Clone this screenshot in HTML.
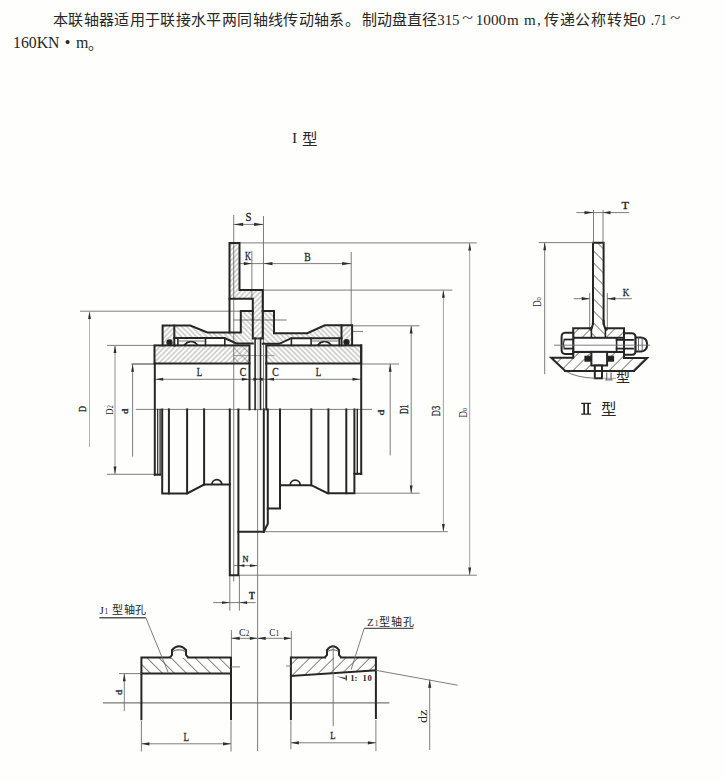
<!DOCTYPE html><html lang="zh-CN"><head><meta charset="utf-8"><style>html,body{margin:0;padding:0;background:#fefefd;width:725px;height:781px;overflow:hidden}svg{display:block}text{font-family:"Liberation Serif",serif;fill:#262626}</style></head><body>
<svg width="725" height="781" viewBox="0 0 725 781">
<defs>
<pattern id="h1" patternUnits="userSpaceOnUse" width="3.6" height="3.6" patternTransform="rotate(45)"><line x1="1.8" y1="0" x2="1.8" y2="3.6" stroke="#5a5a5a" stroke-width="0.5"/></pattern>
<pattern id="h2" patternUnits="userSpaceOnUse" width="3.6" height="3.6" patternTransform="rotate(-45)"><line x1="1.8" y1="0" x2="1.8" y2="3.6" stroke="#5a5a5a" stroke-width="0.5"/></pattern>
<pattern id="s1" patternUnits="userSpaceOnUse" width="8.5" height="8.5" patternTransform="rotate(45)"><line x1="4.25" y1="0" x2="4.25" y2="8.5" stroke="#666" stroke-width="0.8"/></pattern>
<pattern id="s2" patternUnits="userSpaceOnUse" width="8.5" height="8.5" patternTransform="rotate(-45)"><line x1="4.25" y1="0" x2="4.25" y2="8.5" stroke="#666" stroke-width="0.8"/></pattern>
<pattern id="m2" patternUnits="userSpaceOnUse" width="7" height="7" patternTransform="rotate(-45)"><line x1="3.5" y1="0" x2="3.5" y2="7" stroke="#666" stroke-width="0.5"/></pattern>
</defs>
<text x="52.8" y="25" font-size="15" textLength="307" lengthAdjust="spacing">本联轴器适用于联接水平两同轴线传动轴系。</text>
<text x="362" y="25" font-size="15" textLength="75" lengthAdjust="spacing">制动盘直径</text>
<text x="437.2" y="25" font-size="15" textLength="22.4" lengthAdjust="spacingAndGlyphs" >315</text>
<text x="462.3" y="22.5" font-size="14" textLength="10.7" lengthAdjust="spacingAndGlyphs" >~</text>
<text x="475.7" y="25" font-size="15" textLength="30.5" lengthAdjust="spacingAndGlyphs" >1000</text>
<text x="507.1" y="25" font-size="15" textLength="11.7" lengthAdjust="spacingAndGlyphs" >m</text>
<text x="524" y="25" font-size="15" textLength="11.7" lengthAdjust="spacingAndGlyphs" >m</text>
<text x="537" y="25" font-size="15" >,</text>
<text x="543.8" y="25" font-size="15" textLength="94" lengthAdjust="spacing">传递公称转矩</text>
<text x="637.2" y="25" font-size="15" textLength="8.3" lengthAdjust="spacingAndGlyphs" >0</text>
<text x="650.5" y="25" font-size="15" >.</text>
<text x="654.3" y="25" font-size="15" textLength="12.5" lengthAdjust="spacingAndGlyphs" >71</text>
<text x="670.3" y="22.5" font-size="14" textLength="10" lengthAdjust="spacingAndGlyphs" >~</text>
<text x="13" y="47.8" font-size="16" textLength="46.5" lengthAdjust="spacingAndGlyphs">160KN</text>
<text x="67.6" y="47.8" font-size="16" text-anchor="middle">•</text>
<text x="75.9" y="47.8" font-size="16" textLength="12.4" lengthAdjust="spacingAndGlyphs">m</text>
<text x="87.5" y="49" font-size="15">。</text>
<text x="292" y="142.8" font-size="15.5">I</text>
<text x="301.8" y="144.5" font-size="15.5">型</text>
<path d="M581.2,402.8h9.9v1.2h-9.9z M581.2,413.6h9.9v1.2h-9.9z M583.3,402.8h1.7v12h-1.7z M587.3,402.8h1.7v12h-1.7z" fill="#262626"/>
<text x="601.3" y="415" font-size="15.5">型</text>
<line x1="135.8" y1="409.4" x2="372" y2="409.4" stroke="#6e6e6e" stroke-width="0.9" fill="none"/>
<line x1="233.7" y1="215" x2="233.7" y2="581.4" stroke="#8a8a8a" stroke-width="1.1" fill="none"/>
<line x1="263.5" y1="216" x2="263.5" y2="409" stroke="#6e6e6e" stroke-width="0.9" fill="none"/>
<line x1="257.6" y1="409" x2="257.6" y2="751" stroke="#6e6e6e" stroke-width="0.9" fill="none"/>
<line x1="251.9" y1="251" x2="251.9" y2="298.8" stroke="#6e6e6e" stroke-width="0.9" fill="none"/>
<line x1="351.2" y1="252" x2="351.2" y2="325" stroke="#6e6e6e" stroke-width="0.9" fill="none"/>
<line x1="233.7" y1="224.4" x2="263.5" y2="224.4" stroke="#6e6e6e" stroke-width="0.9" fill="none"/>
<polygon points="233.7,224.4 243.10,222.70 243.10,226.10" fill="#2e2e2e"/>
<polygon points="263.5,224.4 254.10,226.10 254.10,222.70" fill="#2e2e2e"/>
<line x1="240" y1="263.6" x2="351.2" y2="263.6" stroke="#6e6e6e" stroke-width="0.9" fill="none"/>
<polygon points="251.9,263.6 243.90,265.20 243.90,262.00" fill="#2e2e2e"/>
<polygon points="263.5,263.6 272.50,262.00 272.50,265.20" fill="#2e2e2e"/>
<polygon points="351.2,263.6 342.20,265.20 342.20,262.00" fill="#2e2e2e"/>
<line x1="239.5" y1="242.9" x2="476.8" y2="242.9" stroke="#6e6e6e" stroke-width="0.9" fill="none"/>
<line x1="262.7" y1="290.1" x2="452.3" y2="290.1" stroke="#6e6e6e" stroke-width="0.9" fill="none"/>
<line x1="352.1" y1="325.8" x2="419.5" y2="325.8" stroke="#6e6e6e" stroke-width="0.9" fill="none"/>
<line x1="352.1" y1="331.4" x2="363" y2="331.4" stroke="#6e6e6e" stroke-width="0.9" fill="none"/>
<line x1="80" y1="311.2" x2="240.8" y2="311.2" stroke="#6e6e6e" stroke-width="0.9" fill="none"/>
<line x1="233.5" y1="320" x2="286.6" y2="320" stroke="#6e6e6e" stroke-width="0.9" fill="none"/>
<line x1="107" y1="345.4" x2="154.5" y2="345.4" stroke="#6e6e6e" stroke-width="0.9" fill="none"/>
<line x1="131.5" y1="364" x2="154.5" y2="364" stroke="#444" stroke-width="1.1" fill="none"/>
<line x1="361.2" y1="364" x2="399" y2="364" stroke="#6e6e6e" stroke-width="0.9" fill="none"/>
<line x1="107" y1="474.3" x2="155" y2="474.3" stroke="#6e6e6e" stroke-width="0.9" fill="none"/>
<line x1="354.4" y1="493.2" x2="419.7" y2="493.2" stroke="#6e6e6e" stroke-width="0.9" fill="none"/>
<line x1="263.8" y1="531.7" x2="447.9" y2="531.7" stroke="#6e6e6e" stroke-width="0.9" fill="none"/>
<line x1="238.4" y1="575.2" x2="476.9" y2="575.2" stroke="#6e6e6e" stroke-width="0.9" fill="none"/>
<line x1="89.5" y1="311.2" x2="89.5" y2="447" stroke="#aaa" stroke-width="0.9" fill="none"/>
<polygon points="89.5,311.2 90.95,318.90 88.05,318.90" fill="#2e2e2e"/>
<line x1="115" y1="345.4" x2="115" y2="474.3" stroke="#999" stroke-width="1.1" fill="none"/>
<polygon points="115,345.4 116.45,353.10 113.55,353.10" fill="#2e2e2e"/>
<polygon points="115,474.3 113.55,466.60 116.45,466.60" fill="#2e2e2e"/>
<line x1="132.6" y1="364" x2="132.6" y2="456.5" stroke="#6e6e6e" stroke-width="0.9" fill="none"/>
<polygon points="132.6,364 134.05,371.70 131.15,371.70" fill="#2e2e2e"/>
<line x1="390.2" y1="364" x2="390.2" y2="455.5" stroke="#6e6e6e" stroke-width="0.9" fill="none"/>
<polygon points="390.2,364 391.65,371.70 388.75,371.70" fill="#2e2e2e"/>
<line x1="411.2" y1="325.8" x2="411.2" y2="493.2" stroke="#6e6e6e" stroke-width="0.9" fill="none"/>
<polygon points="411.2,325.8 412.65,333.50 409.75,333.50" fill="#2e2e2e"/>
<polygon points="411.2,493.2 409.75,485.50 412.65,485.50" fill="#2e2e2e"/>
<line x1="443.4" y1="290.1" x2="443.4" y2="531.7" stroke="#999" stroke-width="0.9" fill="none"/>
<polygon points="443.4,290.1 444.85,297.80 441.95,297.80" fill="#2e2e2e"/>
<polygon points="443.4,531.7 441.95,524.00 444.85,524.00" fill="#2e2e2e"/>
<line x1="469.7" y1="242.9" x2="469.7" y2="575.2" stroke="#999" stroke-width="0.9" fill="none"/>
<polygon points="469.7,242.9 471.15,250.60 468.25,250.60" fill="#2e2e2e"/>
<polygon points="469.7,575.2 468.25,567.50 471.15,567.50" fill="#2e2e2e"/>
<line x1="154.5" y1="379.3" x2="361.2" y2="379.3" stroke="#6e6e6e" stroke-width="0.9" fill="none"/>
<polygon points="155.5,379.3 163.20,377.85 163.20,380.75" fill="#2e2e2e"/>
<polygon points="249.5,379.3 241.80,380.75 241.80,377.85" fill="#2e2e2e"/>
<polygon points="255.2,379.3 262.90,377.85 262.90,380.75" fill="#2e2e2e"/>
<polygon points="261,379.3 253.30,380.75 253.30,377.85" fill="#2e2e2e"/>
<polygon points="266.3,379.3 274.00,377.85 274.00,380.75" fill="#2e2e2e"/>
<polygon points="360.2,379.3 352.50,380.75 352.50,377.85" fill="#2e2e2e"/>
<line x1="234" y1="565.6" x2="257.6" y2="565.6" stroke="#6e6e6e" stroke-width="0.9" fill="none"/>
<polygon points="238.4,565.6 244.40,564.15 244.40,567.05" fill="#2e2e2e"/>
<polygon points="257.6,565.6 249.90,567.05 249.90,564.15" fill="#2e2e2e"/>
<line x1="229.8" y1="575" x2="229.8" y2="610.6" stroke="#6e6e6e" stroke-width="0.9" fill="none"/>
<line x1="239.4" y1="575" x2="239.4" y2="610.6" stroke="#6e6e6e" stroke-width="0.9" fill="none"/>
<line x1="213.2" y1="602.6" x2="255.7" y2="602.6" stroke="#6e6e6e" stroke-width="0.9" fill="none"/>
<polygon points="229.8,602.6 222.10,604.05 222.10,601.15" fill="#2e2e2e"/>
<polygon points="239.4,602.6 247.10,601.15 247.10,604.05" fill="#2e2e2e"/>
<polygon points="229.5,242.9 239.5,242.9 239.5,290.1 262.7,290.1 262.7,338.4 252.8,338.4 252.8,298.8 229.5,298.8" fill="url(#h1)" stroke="none"/>
<polygon points="174.3,325.6 190.2,325.6 207.4,332.5 240.8,332.5 240.8,311 252.8,311 252.8,343.5 236.4,343.5 224,338 174.3,338" fill="url(#h2)" stroke="none"/>
<polygon points="341.5,325.3 324.8,325.3 307.3,333.2 274,333.2 274,311 262.7,311 262.7,343.8 279.3,343.8 291.4,338.2 341.5,338.2" fill="url(#h2)" stroke="none"/>
<polygon points="162.6,325.6 174.3,325.6 174.3,345.6 162.6,345.6" fill="url(#h1)" stroke="none"/>
<polygon points="341.5,325.3 352.1,325.3 352.1,345.3 341.5,345.3" fill="url(#h1)" stroke="none"/>
<polygon points="154.5,345.4 249.5,345.4 249.5,363.5 154.5,363.5" fill="url(#h1)" stroke="none"/>
<polygon points="266.3,345.4 361.2,345.4 361.2,363.5 266.3,363.5" fill="url(#h2)" stroke="none"/>
<polygon points="233.7,345.4 249.5,345.4 249.5,363.5 233.7,363.5" fill="url(#m2)" stroke="none"/>
<line x1="233.6" y1="355.5" x2="274.6" y2="355.5" stroke="#9a9a9a" stroke-width="0.9" fill="none"/>
<polygon points="229.5,242.9 239.5,242.9 239.5,290.1 262.7,290.1 262.7,338.4 252.8,338.4 252.8,298.8 229.5,298.8" stroke="#262626" stroke-width="2" fill="none" stroke-linejoin="miter" stroke-linecap="square"/>
<line x1="229.5" y1="298.8" x2="229.5" y2="332.5" stroke="#262626" stroke-width="2" fill="none" stroke-linejoin="miter" stroke-linecap="square"/>
<polyline points="162.6,345.6 162.6,325.6 190.2,325.6 207.4,332.5 240.8,332.5 240.8,311 252.8,311" stroke="#262626" stroke-width="2" fill="none" stroke-linejoin="miter" stroke-linecap="square"/>
<polyline points="352.1,345.3 352.1,325.3 324.8,325.3 307.3,333.2 274,333.2 274,311 262.7,311" stroke="#262626" stroke-width="2" fill="none" stroke-linejoin="miter" stroke-linecap="square"/>
<line x1="174.3" y1="325.6" x2="174.3" y2="345.6" stroke="#262626" stroke-width="2" fill="none" stroke-linejoin="miter" stroke-linecap="square"/>
<line x1="341.5" y1="325.3" x2="341.5" y2="345.3" stroke="#262626" stroke-width="2" fill="none" stroke-linejoin="miter" stroke-linecap="square"/>
<polyline points="174.3,338 224.5,338 236.4,343.5 252.8,343.5" stroke="#262626" stroke-width="2" fill="none" stroke-linejoin="miter" stroke-linecap="square"/>
<polyline points="341.5,338.2 291.4,338.2 279.3,343.8 262.7,343.8" stroke="#262626" stroke-width="2" fill="none" stroke-linejoin="miter" stroke-linecap="square"/>
<line x1="177.9" y1="338" x2="177.9" y2="345.4" stroke="#262626" stroke-width="1.6" fill="none" stroke-linejoin="miter" stroke-linecap="square"/>
<line x1="205.5" y1="338" x2="205.5" y2="345.4" stroke="#262626" stroke-width="1.6" fill="none" stroke-linejoin="miter" stroke-linecap="square"/>
<line x1="224.8" y1="338" x2="224.8" y2="345.4" stroke="#262626" stroke-width="1.6" fill="none" stroke-linejoin="miter" stroke-linecap="square"/>
<line x1="291.4" y1="338.2" x2="291.4" y2="345.4" stroke="#262626" stroke-width="1.6" fill="none" stroke-linejoin="miter" stroke-linecap="square"/>
<line x1="311.1" y1="338.2" x2="311.1" y2="345.4" stroke="#262626" stroke-width="1.6" fill="none" stroke-linejoin="miter" stroke-linecap="square"/>
<line x1="339.2" y1="338.2" x2="339.2" y2="345.4" stroke="#262626" stroke-width="1.6" fill="none" stroke-linejoin="miter" stroke-linecap="square"/>
<path d="M184,345.4 Q191,337.5 198,345.4" stroke="#262626" stroke-width="1.6" fill="none"/>
<path d="M186,342.5 Q191,340.5 196,342.5" stroke="#262626" stroke-width="1" fill="none"/>
<path d="M317.5,345.4 Q324.5,337.5 331.5,345.4" stroke="#262626" stroke-width="1.6" fill="none"/>
<path d="M319.5,342.5 Q324.5,340.5 329.5,342.5" stroke="#262626" stroke-width="1" fill="none"/>
<line x1="178" y1="341" x2="205" y2="341" stroke="#555" stroke-width="0.8" fill="none"/>
<line x1="311" y1="341" x2="339" y2="341" stroke="#555" stroke-width="0.8" fill="none"/>
<circle cx="169.5" cy="342.4" r="3.1" fill="#222"/>
<circle cx="346.5" cy="342.2" r="3.1" fill="#222"/>
<rect x="154.5" y="345.4" width="95" height="18.1" stroke="#262626" stroke-width="2" fill="none" stroke-linejoin="miter" stroke-linecap="square"/>
<rect x="266.3" y="345.4" width="94.9" height="18.1" stroke="#262626" stroke-width="2" fill="none" stroke-linejoin="miter" stroke-linecap="square"/>
<line x1="154.8" y1="363.5" x2="154.8" y2="474.7" stroke="#262626" stroke-width="2" fill="none" stroke-linejoin="miter" stroke-linecap="square"/>
<line x1="249.5" y1="363.5" x2="249.5" y2="409.4" stroke="#262626" stroke-width="2" fill="none" stroke-linejoin="miter" stroke-linecap="square"/>
<line x1="361.2" y1="345.4" x2="361.2" y2="474" stroke="#262626" stroke-width="2" fill="none" stroke-linejoin="miter" stroke-linecap="square"/>
<line x1="266.3" y1="363.5" x2="266.3" y2="409.4" stroke="#262626" stroke-width="2" fill="none" stroke-linejoin="miter" stroke-linecap="square"/>
<line x1="255.1" y1="338.4" x2="255.1" y2="409.4" stroke="#262626" stroke-width="1.6" fill="none" stroke-linejoin="miter" stroke-linecap="square"/>
<line x1="260.5" y1="338.4" x2="260.5" y2="409.4" stroke="#262626" stroke-width="1.6" fill="none" stroke-linejoin="miter" stroke-linecap="square"/>
<line x1="257.3" y1="338.4" x2="257.3" y2="409.4" stroke="#bbb" stroke-width="0.6" fill="none"/>
<line x1="258.9" y1="338.4" x2="258.9" y2="409.4" stroke="#bbb" stroke-width="0.6" fill="none"/>
<polyline points="154.8,474.7 160.1,474.7" stroke="#262626" stroke-width="2" fill="none" stroke-linejoin="miter" stroke-linecap="square"/>
<line x1="157.7" y1="409.4" x2="157.7" y2="474.7" stroke="#262626" stroke-width="1.2" fill="none" stroke-linejoin="miter" stroke-linecap="square"/>
<line x1="160.1" y1="409.4" x2="160.1" y2="474.7" stroke="#262626" stroke-width="1.3" fill="none" stroke-linejoin="miter" stroke-linecap="square"/>
<polyline points="162.2,409.4 162.2,493.4 187.1,493.4 204.1,484.6 229.8,484.6" stroke="#262626" stroke-width="2" fill="none" stroke-linejoin="miter" stroke-linecap="square"/>
<line x1="168.9" y1="409.4" x2="168.9" y2="493.4" stroke="#262626" stroke-width="2" fill="none" stroke-linejoin="miter" stroke-linecap="square"/>
<line x1="187.1" y1="409.4" x2="187.1" y2="493.4" stroke="#262626" stroke-width="2" fill="none" stroke-linejoin="miter" stroke-linecap="square"/>
<line x1="204.1" y1="409.4" x2="204.1" y2="484.6" stroke="#262626" stroke-width="2" fill="none" stroke-linejoin="miter" stroke-linecap="square"/>
<path d="M211.9,484.6 A5,5 0 0 1 221.9,484.6" stroke="#262626" stroke-width="1.8" fill="none"/>
<polyline points="229.8,409.4 229.8,575.3 238.4,575.3 238.4,409.4" stroke="#262626" stroke-width="2" fill="none" stroke-linejoin="miter" stroke-linecap="square"/>
<polyline points="238.4,531.8 263.8,531.8 267.8,523.7 267.8,409.4" stroke="#262626" stroke-width="2" fill="none" stroke-linejoin="miter" stroke-linecap="square"/>
<line x1="263.8" y1="409.4" x2="263.8" y2="531.8" stroke="#262626" stroke-width="2" fill="none" stroke-linejoin="miter" stroke-linecap="square"/>
<polyline points="267.8,508.5 280,508.5 280,409.4" stroke="#262626" stroke-width="2" fill="none" stroke-linejoin="miter" stroke-linecap="square"/>
<polyline points="280,485.2 311.3,485.2 327.5,493.2 354.4,493.2 354.4,409.4" stroke="#262626" stroke-width="2" fill="none" stroke-linejoin="miter" stroke-linecap="square"/>
<line x1="311.3" y1="409.4" x2="311.3" y2="485.2" stroke="#262626" stroke-width="2" fill="none" stroke-linejoin="miter" stroke-linecap="square"/>
<line x1="328.4" y1="409.4" x2="328.4" y2="493.2" stroke="#262626" stroke-width="2" fill="none" stroke-linejoin="miter" stroke-linecap="square"/>
<line x1="346.3" y1="409.4" x2="346.3" y2="493.2" stroke="#262626" stroke-width="2" fill="none" stroke-linejoin="miter" stroke-linecap="square"/>
<line x1="357.3" y1="409.4" x2="357.3" y2="474" stroke="#262626" stroke-width="1.4" fill="none" stroke-linejoin="miter" stroke-linecap="square"/>
<polyline points="354.4,473.8 361.2,473.8" stroke="#262626" stroke-width="2" fill="none" stroke-linejoin="miter" stroke-linecap="square"/>
<path d="M290.2,485.2 A5,5 0 0 1 300.2,485.2" stroke="#262626" stroke-width="1.8" fill="none"/>
<text x="248.6" y="220.85" font-size="11.63" text-anchor="middle" textLength="6" lengthAdjust="spacingAndGlyphs" stroke="#262626" stroke-width="0.3" >S</text>
<text x="248" y="260.25" font-size="11.63" text-anchor="middle" textLength="6" lengthAdjust="spacingAndGlyphs" stroke="#262626" stroke-width="0.3" >K</text>
<text x="307.5" y="260.55" font-size="11.63" text-anchor="middle" textLength="6.5" lengthAdjust="spacingAndGlyphs" stroke="#262626" stroke-width="0.3" >B</text>
<text x="199.6" y="376.10" font-size="12.39" text-anchor="middle" textLength="5.5" lengthAdjust="spacingAndGlyphs" stroke="#262626" stroke-width="0.3" >L</text>
<text x="242.9" y="376.10" font-size="12.39" text-anchor="middle" textLength="6.5" lengthAdjust="spacingAndGlyphs" stroke="#262626" stroke-width="0.3" >C</text>
<text x="275.5" y="376.10" font-size="12.39" text-anchor="middle" textLength="6.5" lengthAdjust="spacingAndGlyphs" stroke="#262626" stroke-width="0.3" >C</text>
<text x="318.5" y="376.10" font-size="12.39" text-anchor="middle" textLength="5.5" lengthAdjust="spacingAndGlyphs" stroke="#262626" stroke-width="0.3" >L</text>
<text x="245.5" y="562.10" font-size="9.06" text-anchor="middle" textLength="6" lengthAdjust="spacingAndGlyphs" stroke="#262626" stroke-width="0.3" >N</text>
<text x="251.9" y="599.10" font-size="10.88" text-anchor="middle" textLength="5.8" lengthAdjust="spacingAndGlyphs" font-weight="bold" stroke="#262626" stroke-width="0.3" >T</text>
<text transform="translate(83 409) rotate(-90)" x="0" y="3.25" font-size="11.33" text-anchor="middle" textLength="6" lengthAdjust="spacingAndGlyphs" stroke="#262626" stroke-width="0.3" >D</text>
<text transform="translate(109 410) rotate(-90)" x="0" y="3.7" font-size="11.3" text-anchor="middle" textLength="9.5" lengthAdjust="spacingAndGlyphs">D<tspan font-size="8">2</tspan></text>
<text transform="translate(126 411.2) rotate(-90)" x="0" y="2.00" font-size="7.55" text-anchor="middle" textLength="5.5" lengthAdjust="spacingAndGlyphs" stroke="#262626" stroke-width="0.3" >d</text>
<text transform="translate(382.2 412.4) rotate(-90)" x="0" y="2.00" font-size="7.55" text-anchor="middle" textLength="6" lengthAdjust="spacingAndGlyphs" stroke="#262626" stroke-width="0.3" >d</text>
<text transform="translate(405 409.3) rotate(-90)" x="0" y="3.30" font-size="11.48" text-anchor="middle" textLength="9.6" lengthAdjust="spacingAndGlyphs" stroke="#262626" stroke-width="0.3" >D1</text>
<text transform="translate(436.7 411) rotate(-90)" x="0" y="3.30" font-size="11.48" text-anchor="middle" textLength="10.3" lengthAdjust="spacingAndGlyphs" stroke="#262626" stroke-width="0.3" >D3</text>
<text transform="translate(462.9 412.7) rotate(-90)" x="0" y="3.8" font-size="11.5" text-anchor="middle" textLength="9.7" lengthAdjust="spacingAndGlyphs">D<tspan font-size="8.5">o</tspan></text>
<polygon points="593,242.7 603.6,242.7 603.6,322 605.9,328.9 605.9,339 591.5,339 591.5,328.9 593,322" fill="url(#s2)" stroke="none"/>
<polyline points="593,324 593,242.7 603.6,242.7 603.6,324" stroke="#262626" stroke-width="2" fill="none" stroke-linejoin="miter" stroke-linecap="square"/>
<path d="M593,321 Q593,327 590.5,329.5 M603.6,321 Q603.6,327 606.5,329.5" stroke="#262626" stroke-width="2" fill="none" stroke-linejoin="miter" stroke-linecap="square"/>
<line x1="593.5" y1="209.9" x2="593.5" y2="242.7" stroke="#6e6e6e" stroke-width="0.9" fill="none"/>
<line x1="603" y1="209.9" x2="603" y2="242.7" stroke="#6e6e6e" stroke-width="0.9" fill="none"/>
<line x1="576.3" y1="212.6" x2="629.2" y2="212.6" stroke="#6e6e6e" stroke-width="0.9" fill="none"/>
<polygon points="593.5,212.6 584.50,214.20 584.50,211.00" fill="#2e2e2e"/>
<polygon points="603,212.6 610.50,211.00 610.50,214.20" fill="#2e2e2e"/>
<text x="625.2" y="209.40" font-size="10.88" text-anchor="middle" textLength="7.5" lengthAdjust="spacingAndGlyphs" stroke="#262626" stroke-width="0.3" >T</text>
<line x1="538.8" y1="242.6" x2="593" y2="242.6" stroke="#6e6e6e" stroke-width="0.9" fill="none"/>
<line x1="544.7" y1="242.6" x2="544.7" y2="374.2" stroke="#6e6e6e" stroke-width="0.9" fill="none"/>
<polygon points="544.7,242.6 546.15,250.30 543.25,250.30" fill="#2e2e2e"/>
<text transform="translate(537.4 302) rotate(-90)" x="0" y="3.8" font-size="11.5" text-anchor="middle" textLength="9.7" lengthAdjust="spacingAndGlyphs">D<tspan font-size="8.5">o</tspan></text>
<line x1="589.7" y1="293" x2="589.7" y2="329" stroke="#6e6e6e" stroke-width="0.9" fill="none"/>
<line x1="607.3" y1="293" x2="607.3" y2="329" stroke="#6e6e6e" stroke-width="0.9" fill="none"/>
<line x1="573.6" y1="298.7" x2="589.7" y2="298.7" stroke="#6e6e6e" stroke-width="0.9" fill="none"/>
<polygon points="589.7,298.7 581.70,300.30 581.70,297.10" fill="#2e2e2e"/>
<line x1="607.3" y1="298.7" x2="632" y2="298.7" stroke="#6e6e6e" stroke-width="0.9" fill="none"/>
<polygon points="607.3,298.7 615.30,297.10 615.30,300.30" fill="#2e2e2e"/>
<text x="626.1" y="296.40" font-size="10.88" text-anchor="middle" textLength="6.5" lengthAdjust="spacingAndGlyphs" stroke="#262626" stroke-width="0.3" >K</text>
<polygon points="573.2,328.3 591.4,328.3 591.4,337.8 573.2,337.8" fill="url(#s1)" stroke="none"/>
<polygon points="605.4,328.3 624,328.3 624,337.8 605.4,337.8" fill="url(#s1)" stroke="none"/>
<polyline points="591.4,328.3 573.2,328.3 573.2,337.8" stroke="#262626" stroke-width="2" fill="none" stroke-linejoin="miter" stroke-linecap="square"/>
<polyline points="605.4,328.3 624,328.3 624,354.8" stroke="#262626" stroke-width="2" fill="none" stroke-linejoin="miter" stroke-linecap="square"/>
<line x1="591.4" y1="328.3" x2="591.4" y2="337.8" stroke="#262626" stroke-width="1.6" fill="none" stroke-linejoin="miter" stroke-linecap="square"/>
<line x1="605.4" y1="328.3" x2="605.4" y2="337.8" stroke="#262626" stroke-width="1.6" fill="none" stroke-linejoin="miter" stroke-linecap="square"/>
<rect x="573.2" y="337.8" width="50.8" height="14.1" stroke="#262626" stroke-width="2" fill="#fff" stroke-linejoin="miter" stroke-linecap="square"/>
<path d="M573.2,332.8 L565,332.8 Q561.6,333 561.6,337 L561.6,349.8 Q561.6,353.9 565,353.9 L573.2,353.9 Z" fill="#fff" stroke="#262626" stroke-width="2"/>
<line x1="564.5" y1="339.5" x2="573.2" y2="339.5" stroke="#262626" stroke-width="1.8" fill="none" stroke-linejoin="miter" stroke-linecap="square"/>
<line x1="564.5" y1="348.6" x2="573.2" y2="348.6" stroke="#262626" stroke-width="1.8" fill="none" stroke-linejoin="miter" stroke-linecap="square"/>
<path d="M564.2,340 Q562.6,344 564.2,348" stroke="#262626" stroke-width="1.2" fill="none"/>
<path d="M624,333.2 L632,333.2 Q635.6,333.4 635.6,337.5 L635.6,350.5 Q635.6,354.8 632,354.8 L624,354.8 Z" fill="#fff" stroke="#262626" stroke-width="2"/>
<line x1="616.6" y1="339.9" x2="633" y2="339.9" stroke="#262626" stroke-width="1.8" fill="none" stroke-linejoin="miter" stroke-linecap="square"/>
<line x1="616.6" y1="348.6" x2="633" y2="348.6" stroke="#262626" stroke-width="1.8" fill="none" stroke-linejoin="miter" stroke-linecap="square"/>
<line x1="616.6" y1="337.8" x2="616.6" y2="351.9" stroke="#262626" stroke-width="1.6" fill="none" stroke-linejoin="miter" stroke-linecap="square"/>
<path d="M635.6,337.4 L641,337.4 Q647.2,338 647.2,344.5 Q647.2,351 641,351.5 L635.6,351.5 Z" fill="#fff" stroke="#262626" stroke-width="2"/>
<line x1="638.5" y1="337.4" x2="638.5" y2="351.5" stroke="#555" stroke-width="0.9" fill="none"/>
<line x1="642.2" y1="337.4" x2="642.2" y2="351.5" stroke="#555" stroke-width="0.9" fill="none"/>
<line x1="554" y1="345.2" x2="650" y2="345.2" stroke="#6e6e6e" stroke-width="0.9" fill="none"/>
<polygon points="551.2,357.7 573.2,357.7 573.2,351.9 624,351.9 624,358.1 647.2,358.1 634,371 565.3,371" fill="url(#s1)" stroke="none"/>
<polygon points="551.2,357.7 573.2,357.7 573.2,351.9 624,351.9 624,358.1 647.2,358.1 634,371 565.3,371" stroke="#262626" stroke-width="2" fill="none" stroke-linejoin="miter" stroke-linecap="square"/>
<rect x="591.4" y="351.9" width="15.7" height="13.6" stroke="#262626" stroke-width="2" fill="#fff" stroke-linejoin="miter" stroke-linecap="square"/>
<rect x="585" y="356.3" width="6" height="4.8" stroke="#262626" stroke-width="1.2" fill="#222" stroke-linejoin="miter" stroke-linecap="square"/>
<rect x="607.5" y="356.3" width="6" height="4.8" stroke="#262626" stroke-width="1.2" fill="#222" stroke-linejoin="miter" stroke-linecap="square"/>
<rect x="594.8" y="365.5" width="7.2" height="12.8" stroke="#262626" stroke-width="2" fill="#fff" stroke-linejoin="miter" stroke-linecap="square"/>
<path d="M565.3,371 Q576,377.5 594.8,378.3" stroke="#777" stroke-width="1" fill="none"/>
<line x1="602.4" y1="378.3" x2="616" y2="378.3" stroke="#999" stroke-width="0.9" fill="none"/>
<path d="M606,372.5h1.3v7.8h-1.3z M610.4,372.5h1.3v7.8h-1.3z M605.2,379.3h7.3v1.1h-7.3z" fill="#777"/>
<text x="616" y="382.2" font-size="14">型</text>
<line x1="565.3" y1="371" x2="634" y2="371" stroke="#262626" stroke-width="2" fill="none" stroke-linejoin="miter" stroke-linecap="square"/>
<line x1="103" y1="702.9" x2="389.3" y2="702.9" stroke="#777" stroke-width="1.1" fill="none"/>
<polygon points="141.4,657.4 231,657.4 231,673.6 141.4,673.6" fill="url(#s2)" stroke="none"/>
<polyline points="141.4,719.3 141.4,657.4 170.1,657.4" stroke="#262626" stroke-width="2" fill="none" stroke-linejoin="miter" stroke-linecap="square"/>
<polyline points="188,657.4 231,657.4 231,719.3" stroke="#262626" stroke-width="2" fill="none" stroke-linejoin="miter" stroke-linecap="square"/>
<line x1="141.4" y1="673.6" x2="231" y2="673.6" stroke="#262626" stroke-width="2" fill="none" stroke-linejoin="miter" stroke-linecap="square"/>
<path d="M170.1,657.4 L172,655 L172,650 Q179,642.5 186,650 L186,655 L188,657.4" stroke="#262626" stroke-width="2" fill="#fff"/>
<path d="M172.5,651.5 Q179,648 185.5,651.5" stroke="#444" stroke-width="0.9" fill="none"/>
<line x1="119" y1="673.6" x2="141.4" y2="673.6" stroke="#6e6e6e" stroke-width="0.9" fill="none"/>
<line x1="124.3" y1="673.6" x2="124.3" y2="711.2" stroke="#6e6e6e" stroke-width="0.9" fill="none"/>
<polygon points="124.3,673.6 125.75,681.30 122.85,681.30" fill="#2e2e2e"/>
<text transform="translate(119.4 692.4) rotate(-90)" x="0" y="2.10" font-size="7.85" text-anchor="middle" textLength="5.3" lengthAdjust="spacingAndGlyphs" stroke="#262626" stroke-width="0.3" >d</text>
<line x1="141.4" y1="721" x2="141.4" y2="751.5" stroke="#6e6e6e" stroke-width="0.9" fill="none"/>
<line x1="231" y1="721" x2="231" y2="751.5" stroke="#6e6e6e" stroke-width="0.9" fill="none"/>
<line x1="141.4" y1="743.8" x2="231" y2="743.8" stroke="#6e6e6e" stroke-width="0.9" fill="none"/>
<polygon points="141.4,743.8 149.40,742.20 149.40,745.40" fill="#2e2e2e"/>
<polygon points="231,743.8 223.00,745.40 223.00,742.20" fill="#2e2e2e"/>
<text x="186.2" y="741.20" font-size="12.08" text-anchor="middle" textLength="5.5" lengthAdjust="spacingAndGlyphs" stroke="#262626" stroke-width="0.3" >L</text>
<line x1="231" y1="666.9" x2="240" y2="666.9" stroke="#6e6e6e" stroke-width="0.9" fill="none"/>
<text x="99.5" y="613.6" font-size="11" letter-spacing="0.6">J<tspan font-size="7.5">1</tspan> 型轴孔</text>
<line x1="99.4" y1="617.7" x2="145.8" y2="617.7" stroke="#555" stroke-width="1.4" fill="none"/>
<line x1="145.8" y1="617.7" x2="168.3" y2="672.7" stroke="#6e6e6e" stroke-width="0.9" fill="none"/>
<line x1="231.4" y1="630.1" x2="231.4" y2="657" stroke="#6e6e6e" stroke-width="0.9" fill="none"/>
<line x1="291.3" y1="631.1" x2="291.3" y2="657" stroke="#6e6e6e" stroke-width="0.9" fill="none"/>
<line x1="231.4" y1="638.3" x2="291.3" y2="638.3" stroke="#6e6e6e" stroke-width="0.9" fill="none"/>
<polygon points="231.4,638.3 239.70,636.70 239.70,639.90" fill="#2e2e2e"/>
<polygon points="257.5,638.3 249.80,639.90 249.80,636.70" fill="#2e2e2e"/>
<polygon points="257.5,638.3 265.70,636.70 265.70,639.90" fill="#2e2e2e"/>
<polygon points="291.3,638.3 284.00,639.90 284.00,636.70" fill="#2e2e2e"/>
<text x="239" y="635.5" font-size="10.2" textLength="10.3" lengthAdjust="spacingAndGlyphs">C<tspan font-size="7.5">2</tspan></text>
<text x="269.3" y="635.5" font-size="10.2" textLength="10" lengthAdjust="spacingAndGlyphs">C<tspan font-size="8.5">1</tspan></text>
<polygon points="290.9,657.4 375.9,657.4 375.9,670.3 290.9,676" fill="url(#s1)" stroke="none"/>
<polyline points="290.9,719.3 290.9,657.4 325,657.4" stroke="#262626" stroke-width="2" fill="none" stroke-linejoin="miter" stroke-linecap="square"/>
<polyline points="341,657.4 375.9,657.4 375.9,718" stroke="#262626" stroke-width="2" fill="none" stroke-linejoin="miter" stroke-linecap="square"/>
<line x1="290.9" y1="676" x2="375.9" y2="670.3" stroke="#262626" stroke-width="2" fill="none" stroke-linejoin="miter" stroke-linecap="square"/>
<path d="M325,657.4 L327,655 L327,650 Q333,642.5 339,650 L339,655 L341,657.4" stroke="#262626" stroke-width="2" fill="#fff"/>
<path d="M327.5,651.5 Q333,648 338.5,651.5" stroke="#444" stroke-width="0.9" fill="none"/>
<line x1="286" y1="666" x2="290.9" y2="666" stroke="#6e6e6e" stroke-width="0.9" fill="none"/>
<line x1="333.2" y1="645" x2="333.2" y2="726.2" stroke="#6e6e6e" stroke-width="0.9" fill="none"/>
<line x1="375.9" y1="670.3" x2="457.6" y2="685.2" stroke="#6e6e6e" stroke-width="0.9" fill="none"/>
<line x1="429.7" y1="679.7" x2="429.7" y2="750" stroke="#6e6e6e" stroke-width="0.9" fill="none"/>
<polygon points="429.7,679.7 431.30,687.70 428.10,687.70" fill="#2e2e2e"/>
<text transform="translate(421.9 716.4) rotate(-90)" x="0" y="4.6" font-size="13" text-anchor="middle" textLength="13.4" lengthAdjust="spacingAndGlyphs">dz</text>
<text x="350.3" y="680.9" font-size="8.6" font-weight="bold">1</text>
<text x="354.6" y="680.9" font-size="8.6" font-weight="bold">:</text>
<text x="362.6" y="680.9" font-size="8.6" font-weight="bold" textLength="9.2" lengthAdjust="spacing">10</text>
<polygon points="336.6,676.3 345.5,677.8 345.5,679.6" fill="#333"/>
<line x1="346.3" y1="675.3" x2="346.3" y2="680.5" stroke="#333" stroke-width="1.3" fill="none"/>
<line x1="290.9" y1="721" x2="290.9" y2="749.3" stroke="#6e6e6e" stroke-width="0.9" fill="none"/>
<line x1="375.9" y1="720" x2="375.9" y2="751" stroke="#6e6e6e" stroke-width="0.9" fill="none"/>
<line x1="290.9" y1="742.8" x2="375.9" y2="742.8" stroke="#6e6e6e" stroke-width="0.9" fill="none"/>
<polygon points="290.9,742.8 298.90,741.20 298.90,744.40" fill="#2e2e2e"/>
<polygon points="375.9,742.8 367.90,744.40 367.90,741.20" fill="#2e2e2e"/>
<text x="332.9" y="739.15" font-size="11.03" text-anchor="middle" textLength="5.3" lengthAdjust="spacingAndGlyphs" stroke="#262626" stroke-width="0.3" >L</text>
<text x="367" y="626.2" font-size="11" letter-spacing="0.9">Z<tspan font-size="7.5">1</tspan>型轴孔</text>
<line x1="364.2" y1="628.3" x2="413.4" y2="628.3" stroke="#555" stroke-width="1.2" fill="none"/>
<line x1="364.2" y1="628.3" x2="351.1" y2="669.7" stroke="#6e6e6e" stroke-width="0.9" fill="none"/>
</svg></body></html>
